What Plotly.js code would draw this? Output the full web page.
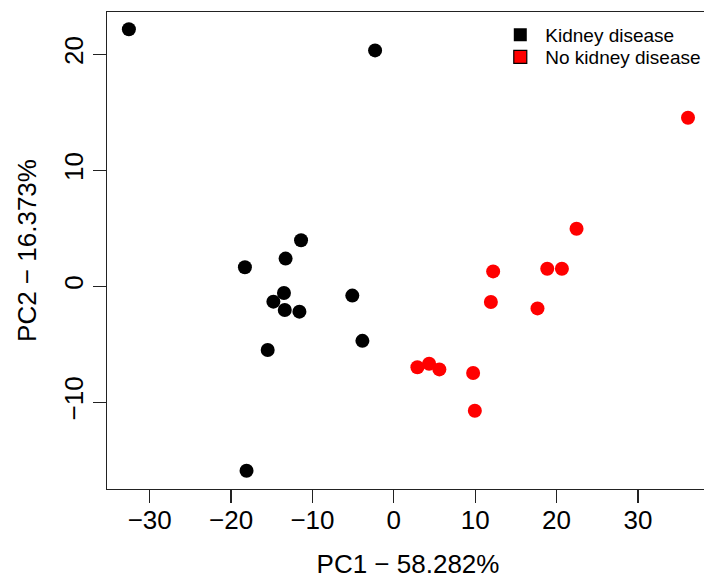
<!DOCTYPE html>
<html>
<head>
<meta charset="utf-8">
<script src="https://cdn.plot.ly/plotly-3.0.1.min.js"></script>
<style>
  html, body { margin: 0; padding: 0; overflow: hidden; background: #fff; }
  #chart { width: 720px; height: 579px; }
</style>
</head>
<body>
<div id="chart"></div>
<script>
// Kidney disease group (black)
const kidneyPC1 = [-32.56, -2.3, -11.4, -13.3, -18.3, -13.5, -14.8, -13.4, -11.6, -15.5, -18.1, -5.1, -3.86];
const kidneyPC2 = [22.16, 20.34, 3.97, 2.39, 1.64, -0.58, -1.32, -2.04, -2.18, -5.49, -15.9, -0.8, -4.7];
// No kidney disease group (red)
const noKidneyPC1 = [36.16, 22.46, 18.86, 20.66, 12.21, 11.93, 17.66, 2.9, 4.34, 5.6, 9.75, 9.96];
const noKidneyPC2 = [14.54, 4.97, 1.52, 1.52, 1.29, -1.35, -1.9, -6.98, -6.67, -7.16, -7.47, -10.72];

const groupNames = ["Kidney disease", "No kidney disease"];
const xTicks = [-30, -20, -10, 0, 10, 20, 30];
const yTicks = [-10, 0, 10, 20];
const xTickText = ["\u221230", "\u221220", "\u221210", "0", "10", "20", "30"];
const yTickText = ["\u221210", "0", "10", "20"];
const xTitle = "PC1 \u2212 58.282%";
const yTitle = "PC2 \u2212 16.373%";

const FONT = "Liberation Sans, Arial, Helvetica, sans-serif";

const traces = [
  { x: kidneyPC1, y: kidneyPC2, mode: "markers", type: "scatter", showlegend: false,
    marker: { color: "#000000", size: 14, line: { width: 0 } }, name: groupNames[0] },
  { x: noKidneyPC1, y: noKidneyPC2, mode: "markers", type: "scatter", showlegend: false,
    marker: { color: "#ff0000", size: 14, line: { width: 0 } }, name: groupNames[1] },
  { x: [null], y: [null], mode: "markers", type: "scatter", name: groupNames[0], legend: "legend",
    marker: { color: "#000000", symbol: "square", size: 13, line: { width: 0 } } },
  { x: [null], y: [null], mode: "markers", type: "scatter", name: groupNames[1], legend: "legend2",
    marker: { color: "#ff0000", symbol: "square", size: 13, line: { width: 1.2, color: "#000000" } } }
];

const axisCommon = {
  showgrid: false, zeroline: false, showline: true, mirror: true,
  linecolor: "#222", linewidth: 1.3,
  ticks: "outside", ticklen: 13, tickwidth: 1.3, tickcolor: "#222",
  tickfont: { family: FONT, size: 26, color: "#000" },
  tickmode: "array"
};

const legendCommon = {
  xanchor: "left", yanchor: "top",
  bgcolor: "rgba(0,0,0,0)", borderwidth: 0,
  font: { family: FONT, size: 19, color: "#000" },
  itemsizing: "trace", itemwidth: 40
};

const layout = {
  width: 720, height: 579,
  margin: { l: 107, r: 11, t: 12, b: 90 },
  paper_bgcolor: "#fff", plot_bgcolor: "#fff",
  font: { family: FONT, color: "#000" },
  xaxis: Object.assign({}, axisCommon, {
    range: [-35.25, 38.74], tickvals: xTicks, ticktext: xTickText, ticklabelstandoff: -6,
    title: { text: xTitle, font: { family: FONT, size: 26, color: "#000" }, standoff: 28 }
  }),
  yaxis: Object.assign({}, axisCommon, {
    range: [-17.47, 23.65], tickvals: yTicks, ticktext: yTickText, tickangle: -90,
    ticklabelstandoff: -1,
    title: { text: yTitle, font: { family: FONT, size: 26, color: "#000" }, standoff: 15 }
  }),
  showlegend: true,
  legend: Object.assign({}, legendCommon, { x: 0.645, y: 0.9916 }),
  legend2: Object.assign({}, legendCommon, { x: 0.645, y: 0.9455 })
};

Plotly.newPlot("chart", traces, layout, { staticPlot: true, displayModeBar: false });
</script>
</body>
</html>
